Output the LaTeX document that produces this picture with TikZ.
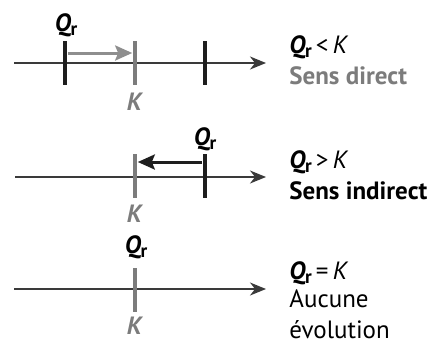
\documentclass[tikz,border=0pt]{standalone}
\usepackage{fontspec}
\setmainfont{PT Sans}
\usetikzlibrary{arrows.meta}
\definecolor{fonce}{HTML}{1E1E1E}
\definecolor{gris}{HTML}{7C7C7C}
\definecolor{grisclair}{HTML}{8E8E8E}
\definecolor{axe}{HTML}{3A3A3A}
\newcommand{\Qr}{\textbf{\textit{Q}\kern-0.3pt\raisebox{-0.35ex}{\fontsize{9.5}{9.5}\selectfont r}}}
\newcommand{\Kk}{\textbf{\textit{K}}}

\begin{document}
\begin{tikzpicture}[x=0.5pt,y=-0.5pt,
  trait/.style={rectangle,inner sep=0pt,minimum width=2.4pt,minimum height=22pt},
  droite/.style={draw=axe,line width=0.9pt,-{Stealth[length=8pt,width=6.5pt,inset=2.5pt]}},
  fleche/.style={line width=1.5pt,-{Stealth[length=8.5pt,width=7.5pt,inset=1.5pt]}},
  etiq/.style={anchor=base,inner sep=0pt,font=\fontsize{12.5}{14}\selectfont},
  texte/.style={anchor=base west,inner sep=0pt,font=\fontsize{12.5}{14}\selectfont}]
\useasboundingbox (0,0) rectangle (427,338);

% Qr < K
\coordinate (d1) at (14,63);
\coordinate (f1) at (266,63);
\draw[droite] (d1) -- (f1);
\node[trait,fill=fonce] (q1) at (65,63) {};
\node[trait,fill=gris] (k1) at (135,63) {};
\node[trait,fill=fonce] (r1) at (205,63) {};
\draw[fleche,grisclair] ([yshift=5pt]q1.east) -- ([yshift=5pt]k1.west);
\node[etiq] (lq1) at (66,31) {\Qr};
\node[etiq,text=gris] (lk1) at (135,110) {\Kk};
\node[texte] (c1) at (289,53) {\Qr\,<\,\textit{K}};
\node[texte,text=gris] (s1) at (289,84) {\textbf{Sens direct}};

% Qr > K
\coordinate (d2) at (15,177);
\coordinate (f2) at (266,177);
\draw[droite,line width=0.7pt] (d2) -- (f2);
\node[trait,fill=gris] (k2) at (135,176) {};
\node[trait,fill=fonce] (q2) at (205,176) {};
\draw[fleche,fonce] ([yshift=7pt]q2.west) -- ([yshift=7pt]k2.east);
\node[etiq] (lq2) at (205,145) {\Qr};
\node[etiq,text=gris] (lk2) at (135,222) {\Kk};
\node[texte] (c2) at (289,168) {\Qr\,>\,\textit{K}};
\node[texte] (s2) at (289,199) {\textbf{Sens indirect}};

% Qr = K
\coordinate (d3) at (14,289);
\coordinate (f3) at (266,289);
\draw[droite,line width=0.7pt] (d3) -- (f3);
\node[trait,fill=gris] (k3) at (135,290) {};
\node[etiq] (lq3) at (136,253) {\Qr};
\node[etiq,text=gris] (lk3) at (135,334) {\Kk};
\node[texte] (c3) at (289,279) {\Qr\,=\,\textit{K}};
\node[texte] (s3) at (289,307) {Aucune};
\node[texte] (e3) at (289,338) {évolution};
\end{tikzpicture}
\end{document}
